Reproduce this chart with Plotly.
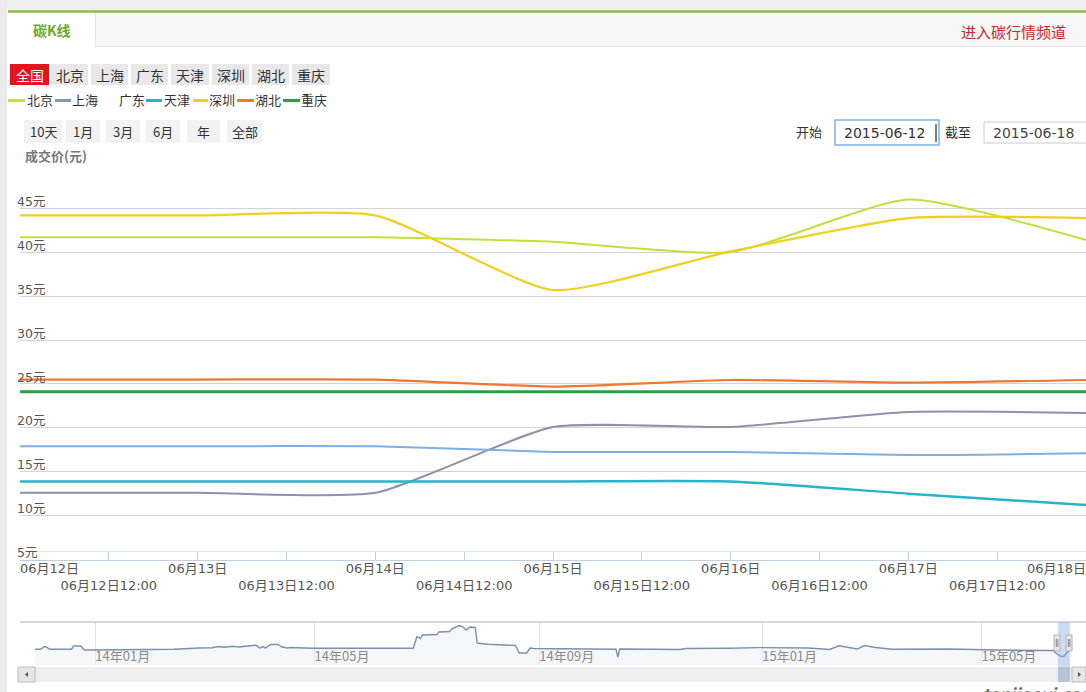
import plotly.graph_objects as go

W, H = 1086, 692

# ---------------- data ----------------
dates = ["2015-06-12", "2015-06-13", "2015-06-14", "2015-06-15",
         "2015-06-16", "2015-06-17", "2015-06-18"]
beijing   = [41.7, 41.7, 41.7, 41.2, 40.0, 46.0, 41.4]
shanghai  = [12.6, 12.6, 12.6, 20.1, 20.1, 21.8, 21.7]
guangdong = [17.9, 17.9, 17.9, 17.25, 17.25, 16.9, 17.1]
tianjin   = [13.9, 13.9, 13.9, 13.9, 13.9, 12.5, 11.2]
shenzhen  = [44.2, 44.2, 44.2, 35.7, 40.1, 43.9, 43.9]
hubei     = [25.5, 25.5, 25.5, 24.7, 25.45, 25.15, 25.45]
chongqing = [24.1, 24.1, 24.1, 24.1, 24.1, 24.1, 24.1]

series_names  = ["北京", "上海", "广东", "天津", "深圳", "湖北", "重庆"]
series_values = [beijing, shanghai, guangdong, tianjin, shenzhen, hubei, chongqing]
series_colors = ["#c4df3a", "#8a93ab", "#7eaee3", "#26b5c7", "#f0cf1e", "#ee7733", "#2e9e3f"]
series_widths = [2, 2, 2, 2.5, 2.2, 2.2, 3]

x_tickvals = ["2015-06-12 00:00", "2015-06-12 12:00", "2015-06-13 00:00", "2015-06-13 12:00",
              "2015-06-14 00:00", "2015-06-14 12:00", "2015-06-15 00:00", "2015-06-15 12:00",
              "2015-06-16 00:00", "2015-06-16 12:00", "2015-06-17 00:00", "2015-06-17 12:00",
              "2015-06-18 00:00"]
x_ticklabels = ["06月12日", "06月12日12:00", "06月13日", "06月13日12:00", "06月14日", "06月14日12:00",
                "06月15日", "06月15日12:00", "06月16日", "06月16日12:00", "06月17日", "06月17日12:00",
                "06月18日"]
y_tickvals = [5, 10, 15, 20, 25, 30, 35, 40, 45, 50]
y_ticklabels = ["5元", "10元", "15元", "20元", "25元", "30元", "35元", "40元", "45元", ""]

# navigator (long history) series
nav_dates = ["2013-11-29", "2013-12-02", "2013-12-04", "2013-12-05", "2013-12-07", "2013-12-19",
             "2013-12-20", "2013-12-24", "2013-12-26", "2014-01-02", "2014-01-04", "2014-02-13",
             "2014-02-27", "2014-03-06", "2014-03-09", "2014-03-13", "2014-03-17", "2014-03-21",
             "2014-03-25", "2014-03-30", "2014-04-01", "2014-04-03", "2014-04-04", "2014-04-07",
             "2014-04-11", "2014-04-13", "2014-04-16", "2014-04-18", "2014-04-30", "2014-06-24",
             "2014-06-26", "2014-06-28", "2014-06-29", "2014-07-07", "2014-07-08", "2014-07-14",
             "2014-07-15", "2014-07-19", "2014-07-21", "2014-07-23", "2014-07-25", "2014-07-28",
             "2014-07-29", "2014-08-04", "2014-08-19", "2014-08-21", "2014-08-25", "2014-08-27",
             "2014-08-29", "2014-10-13", "2014-10-14", "2014-10-15", "2014-11-17", "2014-11-20",
             "2014-12-14", "2014-12-30", "2015-01-26", "2015-02-07", "2015-02-12", "2015-02-17",
             "2015-02-22", "2015-02-26", "2015-03-04", "2015-03-13", "2015-04-13", "2015-05-10",
             "2015-06-09", "2015-06-13", "2015-06-15", "2015-06-17", "2015-06-18"]
nav_values = [21.9, 21.9, 25.5, 25.5, 21.9, 21.9,
              26.5, 26.5, 20.9, 20.9, 21.9, 21.9,
              23.7, 24.1, 25.8, 24.7, 26.1, 25.1,
              26.5, 27.5, 23.7, 25.8, 23.7, 28.6,
              28.6, 25.5, 23.7, 24.4, 23.3, 23.3,
              39.5, 37.0, 41.9, 42.5, 46.0, 46.7,
              50.2, 55.1, 53.7, 48.8, 53.0, 52.3,
              30.7, 28.9, 27.2, 16.7, 16.7, 23.7,
              23.0, 21.9, 11.2, 22.3, 21.6, 23.0,
              23.4, 24.3, 23.7, 21.6, 26.8, 24.4,
              22.3, 27.2, 24.4, 21.9, 22.3, 20.9,
              20.2, 12.6, 11.9, 18.1, 19.5]
nav_tickvals = ["2014-01-01", "2014-05-01", "2014-09-01", "2015-01-01", "2015-05-01"]
nav_ticklabels = ["14年01月", "14年05月", "14年09月", "15年01月", "15年05月"]

region_buttons = ["全国", "北京", "上海", "广东", "天津", "深圳", "湖北", "重庆"]
range_buttons = ["10天", "1月", "3月", "6月", "年", "全部"]

FONT = "Noto Sans CJK SC, Noto Sans, sans-serif"
NUMFONT = "DejaVu Sans, Noto Sans CJK SC, sans-serif"


def X(px):
    return px / W


def Y(py):
    return 1 - py / H


fig = go.Figure()

for name, vals, col, lw in zip(series_names, series_values, series_colors, series_widths):
    fig.add_trace(go.Scatter(
        x=dates, y=vals, name=name, mode="lines",
        line=dict(color=col, width=lw, shape="spline", smoothing=0.55),
        xaxis="x", yaxis="y", showlegend=False, hoverinfo="skip"))

fig.add_trace(go.Scatter(
    x=nav_dates, y=nav_values, mode="lines", xaxis="x2", yaxis="y2",
    line=dict(color="#7b90aa", width=1.4), fill="tozeroy",
    fillcolor="rgba(225,233,244,0.35)", showlegend=False, hoverinfo="skip"))


# tick text with two staggered rows and edge justification (transparent padding copy)
def ghost(s):
    return '<span style="color:rgba(0,0,0,0)">' + s + '</span>'


x_ticktext = []
for i, lab in enumerate(x_ticklabels):
    t = ("<br>" + lab) if i % 2 == 1 else lab
    if i == 0:
        t = ghost(lab) + t
    if i == len(x_ticklabels) - 1:
        t = t + ghost(lab)
    x_ticktext.append(t)

shapes = []
annotations = []


def rect(x0, y0, x1, y1, fill, line=None, lw=1, layer="below"):
    shapes.append(dict(type="rect", xref="paper", yref="paper",
                       x0=X(x0), x1=X(x1), y0=Y(y1), y1=Y(y0),
                       fillcolor=fill, line=dict(color=line or fill, width=lw if line else 0),
                       layer=layer))


def hline(x0, x1, y, color, width=1, layer="below"):
    shapes.append(dict(type="line", xref="paper", yref="paper",
                       x0=X(x0), x1=X(x1), y0=Y(y), y1=Y(y),
                       line=dict(color=color, width=width), layer=layer))


def vline(x, y0, y1, color, width=1, layer="above"):
    shapes.append(dict(type="line", xref="paper", yref="paper",
                       x0=X(x), x1=X(x), y0=Y(y0), y1=Y(y1),
                       line=dict(color=color, width=width), layer=layer))


def text(x, y, s, size=13, color="#333333", anchor="center", bold=False, italic=False, family=FONT):
    if bold:
        s = "<b>" + s + "</b>"
    if italic:
        s = "<i>" + s + "</i>"
    annotations.append(dict(xref="paper", yref="paper", x=X(x), y=Y(y), text=s,
                            showarrow=False, xanchor=anchor, yanchor="middle",
                            font=dict(family=family, size=size, color=color)))


# page frame
rect(0, 0, 1086, 10, "#efefef")
rect(0, 0, 7, 692, "#ebebeb")
rect(8, 12, 1086, 46, "#f7f7f7")
hline(8, 1086, 46.5, "#e3e3e3")
rect(8, 12, 95, 47, "#ffffff")
vline(95.5, 12, 46.5, "#e3e3e3", layer="below")
hline(8, 1086, 11.5, "#86bb4a", width=2.5)
text(52, 30, "碳K线", size=14, color="#6aa82c", bold=True)
text(1014, 31, "进入碳行情频道", size=15, color="#c8262c")

# region buttons
btn_x = [(10, 49), (51, 88), (91, 128), (131, 168), (171, 209), (212, 249), (252, 289), (292, 330)]
for i, (lab, (a, b)) in enumerate(zip(region_buttons, btn_x)):
    if i == 0:
        rect(a, 64, b, 85, "#e3141c")
        text((a + b) / 2, 75, lab, size=14, color="#ffffff")
    else:
        rect(a, 64, b, 85, "#e8e8e8")
        text((a + b) / 2, 75, lab, size=14, color="#333333")

# custom legend
leg_sym = [(8, 25), (55, 71), None, (146, 162), (193, 208), (237, 254), (283, 300)]
leg_txt = [40, 85, 132, 177, 222, 268, 314]
for name, col, sym, tx in zip(series_names, series_colors, leg_sym, leg_txt):
    if sym is not None:
        hline(sym[0], sym[1], 100.5, col, width=3, layer="above")
    text(tx, 100, name, size=13, color="#333333")

# range buttons
rb_x = [(24, 62), (66, 100), (106, 140), (146, 180), (187, 220), (227, 262)]
for lab, (a, b) in zip(range_buttons, rb_x):
    rect(a, 120, b, 143, "#f2f2f2")
    text((a + b) / 2, 131.5, lab, size=13, color="#333333")

text(23, 155, "成交价(元)", size=13, color="#777777", anchor="left", bold=True)

# date inputs
text(809, 132, "开始", size=13, color="#333333")
rect(835, 120, 939, 145, "#ffffff", line="#7fb1e3", lw=1.5, layer="above")
text(842, 133, "2015-06-12", size=14, color="#333333", anchor="left", family=NUMFONT)
vline(936, 124, 142, "#000000", width=1)
text(958, 132, "截至", size=13, color="#333333")
rect(984, 122, 1092, 143, "#ffffff", line="#cccccc", lw=1, layer="above")
text(991, 132.5, "2015-06-18", size=14, color="#444444", anchor="left", family=NUMFONT)

# extra line above x axis
hline(28, 1086, 551.5, "#dde5ee")

# navigator frame
hline(20, 1086, 622, "#b2b1b6", layer="above")
rect(35, 667, 1072, 682, "#eeeeee")
rect(18, 667, 35, 682, "#e6e6e6", line="#bcbcbc", lw=1, layer="above")
rect(1072, 667, 1086, 682, "#e6e6e6", line="#bcbcbc", lw=1, layer="above")
shapes.append(dict(type="path", xref="paper", yref="paper",
                   path="M {} {} L {} {} L {} {} Z".format(X(28), Y(672), X(25), Y(674.5), X(28), Y(677)),
                   fillcolor="#555555", line=dict(width=0), layer="above"))
shapes.append(dict(type="path", xref="paper", yref="paper",
                   path="M {} {} L {} {} L {} {} Z".format(X(1078), Y(672), X(1081), Y(674.5), X(1078), Y(677)),
                   fillcolor="#555555", line=dict(width=0), layer="above"))
rect(1058, 622, 1070, 667, "rgba(130,170,230,0.40)", layer="above")
rect(1058, 667, 1070, 682, "#b7c4d4", layer="above")
for a in (1054, 1066):
    rect(a, 635, a + 6, 651, "#ebe7e8", line="#b2b1b6", lw=1, layer="above")
    vline(a + 2.3, 639, 647, "#888888")
    vline(a + 3.9, 639, 647, "#888888")

# watermark
text(1040, 693, "tanjiaoyi.com", size=17, color="#666666", italic=True, bold=True)

fig.update_layout(
    width=W, height=H,
    margin=dict(l=0, r=0, t=0, b=0),
    paper_bgcolor="#ffffff", plot_bgcolor="rgba(0,0,0,0)",
    font=dict(family=FONT, size=13, color="#666666"),
    xaxis=dict(
        domain=[X(20), 1.0], anchor="y", type="date",
        range=["2015-06-12 00:00", "2015-06-18 00:00"],
        tickmode="array", tickvals=x_tickvals, ticktext=x_ticktext,
        ticks="inside", ticklen=8, tickcolor="#c0d0e0", tickwidth=1,
        showline=True, linecolor="#c0d0e0", linewidth=1,
        showgrid=False, zeroline=False, ticklabeloverflow="allow",
        ticklabelstandoff=-3,
        tickfont=dict(family=NUMFONT, size=13, color="#555555"),
        tickangle=0, automargin=False, fixedrange=True,
    ),
    yaxis=dict(
        domain=[Y(559.5), Y(164.5)], anchor="x",
        range=[5, 50], tickmode="array", tickvals=y_tickvals, ticktext=y_ticklabels,
        ticklabelposition="inside top", ticklabelstandoff=-6, ticklabelshift=2,
        showgrid=True, gridcolor="#d4d4d4", gridwidth=1,
        showline=False, zeroline=False, ticks="",
        tickfont=dict(family=NUMFONT, size=12.5, color="#555555"),
        automargin=False, fixedrange=True, ticklabeloverflow="allow",
    ),
    xaxis2=dict(
        domain=[X(35), X(1071)], anchor="y2", type="date",
        range=["2013-11-29", "2015-06-19"],
        tickmode="array", tickvals=nav_tickvals, ticktext=nav_ticklabels,
        ticklabelposition="inside right", ticklabelstandoff=-5, ticks="",
        showgrid=True, gridcolor="#e3e3e3", showline=False, zeroline=False,
        tickfont=dict(family=FONT, size=13, color="#8a8a8a"),
        automargin=False, fixedrange=True, ticklabeloverflow="allow",
    ),
    yaxis2=dict(
        domain=[Y(665), Y(622)], anchor="x2", range=[0, 60],
        showgrid=False, showticklabels=False, zeroline=False, showline=False,
        ticks="", automargin=False, fixedrange=True,
    ),
    shapes=shapes,
    annotations=annotations,
    showlegend=False,
    hovermode=False,
)

fig.write_html("out.html", config={"displayModeBar": False})
